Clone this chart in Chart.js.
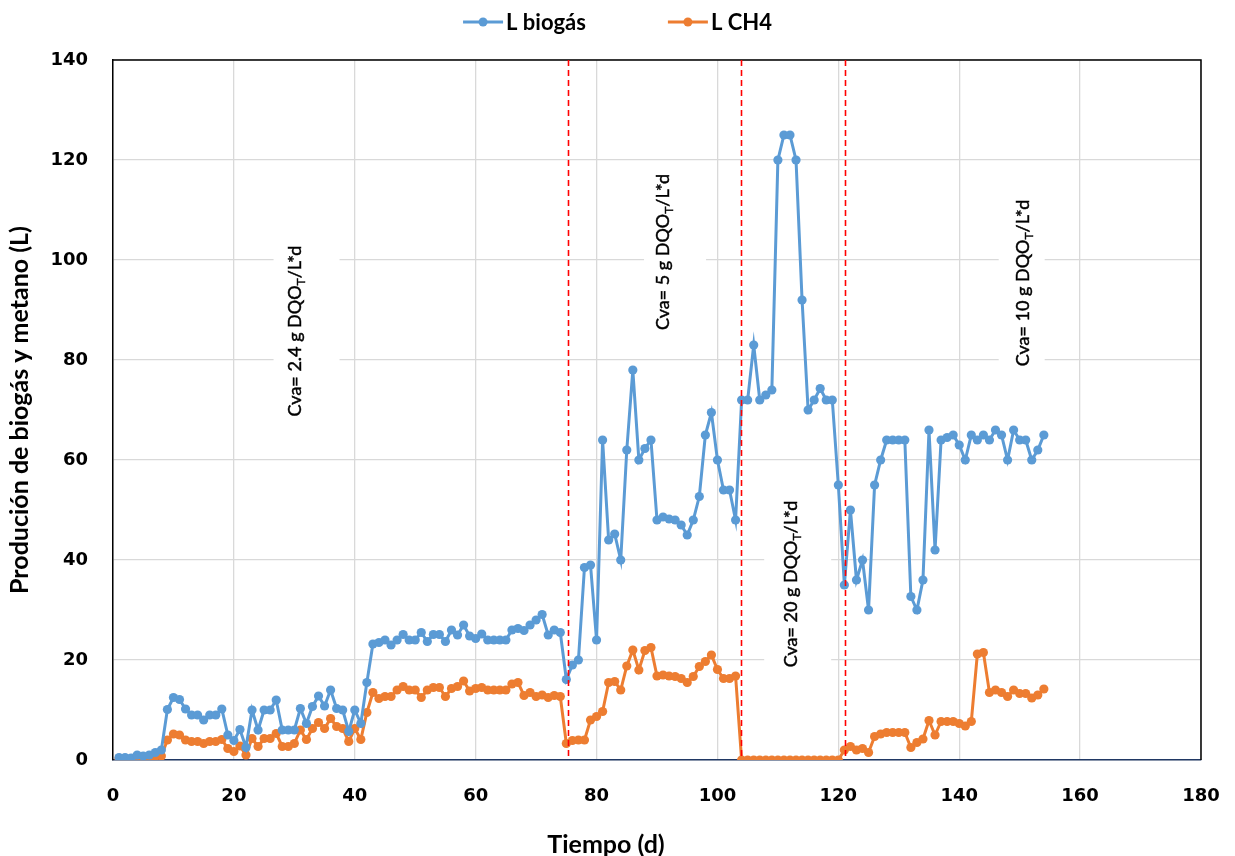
<!DOCTYPE html>
<html lang="es">
<head>
<meta charset="utf-8">
<title>Producción de biogás y metano</title>
<script src="https://cdn.jsdelivr.net/npm/chart.js@4.4.1/dist/chart.umd.min.js"></script>
<style>
  html, body { margin: 0; padding: 0; background: #fff; }
</style>
</head>
<body>
<canvas id="grafico" width="1235" height="856"></canvas>
<script>
// --- DATOS (producción diaria, L) ---
const PRIMER_DIA = 1;

const L_BIOGAS = [
  0.5, 0.5, 0.4, 1.0, 0.8, 1.0, 1.5, 2.0, 10.1, 12.5,
  12.1, 10.2, 9.0, 9.0, 8.0, 9.0, 9.0, 10.2, 5.0, 3.9,
  6.1, 2.5, 10.0, 6.0, 10.0, 10.0, 12.0, 6.0, 6.0, 6.0,
  10.3, 7.3, 10.7, 12.8, 10.8, 14.0, 10.3, 10.0, 5.7, 10.0,
  7.3, 15.5, 23.2, 23.5, 24.0, 23.0, 24.0, 25.1, 24.0, 24.0,
  25.5, 23.7, 25.1, 25.1, 23.7, 26.0, 25.0, 27.0, 24.8, 24.3,
  25.2, 24.0, 24.0, 24.0, 24.0, 26.0, 26.3, 25.9, 27.0, 28.0,
  29.1, 25.0, 26.0, 25.5, 16.1, 19.0, 20.0, 38.5, 39.0, 24.0,
  64.0, 44.0, 45.2, 40.0, 62.0, 78.0, 60.0, 62.3, 64.0, 48.0,
  48.6, 48.2, 48.0, 47.0, 45.0, 48.0, 52.7, 65.0, 69.5, 60.0,
  54.0, 54.0, 48.0, 72.0, 72.0, 83.0, 72.0, 73.0, 74.0, 120.0,
  125.0, 125.0, 120.0, 92.0, 70.0, 72.0, 74.3, 72.0, 72.0, 55.0,
  35.0, 50.0, 36.0, 40.0, 30.0, 55.0, 60.0, 64.0, 64.0, 64.0,
  64.0, 32.7, 30.0, 36.0, 66.0, 42.0, 64.0, 64.5, 65.0, 63.0,
  60.0, 65.0, 64.0, 65.0, 64.0, 66.0, 65.0, 60.0, 66.0, 64.0,
  64.0, 60.0, 62.0, 65.0
];

const L_CH4 = [
  0.3, 0.3, 0.2, 0.4, 0.4, 0.5, 0.7, 0.8, 4.0, 5.2,
  5.0, 4.0, 3.7, 3.7, 3.3, 3.7, 3.7, 4.1, 2.3, 1.7,
  2.8, 1.0, 4.3, 2.7, 4.3, 4.3, 5.3, 2.7, 2.7, 3.3,
  6.0, 4.1, 6.3, 7.5, 6.3, 8.3, 6.7, 6.3, 3.7, 6.3,
  4.1, 9.5, 13.5, 12.3, 12.7, 12.7, 14.0, 14.7, 14.0, 14.0,
  12.5, 14.0, 14.5, 14.5, 12.7, 14.3, 14.7, 15.8, 13.8, 14.3,
  14.5, 14.0, 14.0, 14.0, 14.0, 15.2, 15.5, 12.9, 13.5, 12.7,
  13.0, 12.5, 12.9, 12.7, 3.3, 3.9, 4.0, 4.0, 8.0, 8.7,
  9.7, 15.5, 15.7, 14.0, 18.8, 22.0, 18.0, 21.9, 22.5, 16.8,
  17.0, 16.8, 16.7, 16.3, 15.5, 16.7, 18.7, 19.7, 21.0, 18.1,
  16.3, 16.3, 16.8, 0, 0, 0, 0, 0, 0, 0,
  0, 0, 0, 0, 0, 0, 0, 0, 0, 0,
  2.0, 2.7, 2.0, 2.3, 1.5, 4.7, 5.2, 5.5, 5.5, 5.5,
  5.5, 2.5, 3.5, 4.2, 7.9, 5.0, 7.7, 7.7, 7.7, 7.3,
  6.8, 7.7, 21.2, 21.5, 13.5, 14.0, 13.5, 12.7, 14.0, 13.3,
  13.3, 12.4, 13.0, 14.2
];

const NOMBRES_SERIES = ['L biogás', 'L CH4'];
const COLORES = ['#5B9BD5', '#ED7D31'];

// días en que cambia la carga (líneas rojas)
const CAMBIOS_CARGA = [75.3, 103.9, 121.1];

// rótulos de cada etapa: texto, subíndice, resto y centro en unidades del gráfico
const ETAPAS = [
  { texto: 'Cva= 2.4 g DQO', sub: 'T', fin: '/L*d', dia: 30.2, valor: 85.8, izq: 22, der: 44 },
  { texto: 'Cva= 5 g DQO',   sub: 'T', fin: '/L*d', dia: 91.0, valor: 101.6, izq: 19, der: 43 },
  { texto: 'Cva= 20 g DQO',  sub: 'T', fin: '/L*d', dia: 112.2, valor: 35.2, izq: 27, der: 40 },
  { texto: 'Cva= 10 g DQO',  sub: 'T', fin: '/L*d', dia: 150.5, valor: 95.4, izq: 24, der: 22 }
];

const FUENTE_TITULOS = 'bold 25px Lato';
const FUENTE_LEYENDA = 'bold 22px Lato';
const FUENTE_ETAPAS = 18;

function aPuntos(valores) {
  return valores.map((v, i) => ({ x: PRIMER_DIA + i, y: v }));
}

// --- texto girado con subíndice (un poco engrosado) ---
function escribir(ctx, t, x, y) {
  ctx.fillText(t, x, y);
  ctx.strokeText(t, x, y);
}

function textoVertical(ctx, cx, cy, etapa) {
  ctx.save();
  ctx.translate(cx, cy);
  ctx.rotate(-Math.PI / 2);
  const normal = FUENTE_ETAPAS + 'px Lato';
  const chica = Math.round(FUENTE_ETAPAS * 0.65) + 'px Lato';
  ctx.font = normal;
  const w1 = ctx.measureText(etapa.texto).width;
  const w3 = ctx.measureText(etapa.fin).width;
  ctx.font = chica;
  const w2 = ctx.measureText(etapa.sub).width;
  const total = w1 + w2 + w3;
  let xx = -total / 2;
  ctx.fillStyle = '#000';
  ctx.strokeStyle = '#000';
  ctx.lineWidth = 0.45;
  ctx.textBaseline = 'middle';
  ctx.textAlign = 'left';
  ctx.font = normal;
  escribir(ctx, etapa.texto, xx, 0);
  xx += w1;
  ctx.font = chica;
  escribir(ctx, etapa.sub, xx, 6);
  xx += w2;
  ctx.font = normal;
  escribir(ctx, etapa.fin, xx, 0);
  ctx.restore();
  return total;
}

const pluginDecoracion = {
  id: 'decoracion',
  beforeDatasetsDraw(chart) {
    const { ctx, chartArea: a, scales: { x, y } } = chart;
    ctx.save();
    // marco superior y derecho
    ctx.strokeStyle = '#000';
    ctx.lineWidth = 1.5;
    ctx.beginPath();
    ctx.moveTo(a.left, a.top);
    ctx.lineTo(a.right, a.top);
    ctx.lineTo(a.right, a.bottom);
    ctx.stroke();

    // recuadros y rótulos de cada etapa
    ETAPAS.forEach(e => {
      const cx = x.getPixelForValue(e.dia);
      const cy = y.getPixelForValue(e.valor);
      ctx.font = FUENTE_ETAPAS + 'px Lato';
      const largo = ctx.measureText(e.texto + e.sub + e.fin).width;
      ctx.fillStyle = '#fff';
      ctx.fillRect(cx - e.izq, cy - largo / 2 - 12, e.izq + e.der, largo + 24);
      textoVertical(ctx, cx, cy, e);
    });
    ctx.restore();
  },
  afterDatasetsDraw(chart) {
    const { ctx, chartArea: a, scales: { x } } = chart;
    ctx.save();
    ctx.strokeStyle = '#FF0000';
    ctx.lineWidth = 1.6;
    ctx.setLineDash([6, 4]);
    CAMBIOS_CARGA.forEach(d => {
      const px = Math.round(x.getPixelForValue(d)) + 0.5;
      ctx.beginPath();
      ctx.moveTo(px, a.top);
      ctx.lineTo(px, a.bottom);
      ctx.stroke();
    });
    ctx.restore();
  },
  afterDraw(chart) {
    const { ctx } = chart;
    ctx.save();
    ctx.fillStyle = '#000';
    ctx.font = FUENTE_TITULOS;
    ctx.textAlign = 'center';
    ctx.textBaseline = 'middle';

    // título eje X
    ctx.fillText('Tiempo (d)', 606, 845);

    // título eje Y
    ctx.save();
    ctx.translate(20, 410);
    ctx.rotate(-Math.PI / 2);
    ctx.fillText('Produción de biogás y metano (L)', 0, 0);
    ctx.restore();

    // leyenda centrada arriba
    ctx.font = FUENTE_LEYENDA;
    const largoLinea = 40, sep = 3, entre = 82;
    ctx.textAlign = 'left';
    const anchos = NOMBRES_SERIES.map(n => largoLinea + sep + ctx.measureText(n).width);
    const total = anchos.reduce((s, w) => s + w, 0) + entre * (anchos.length - 1);
    let xx = chart.width / 2 - total / 2;
    const yy = 22;
    NOMBRES_SERIES.forEach((n, i) => {
      ctx.strokeStyle = COLORES[i];
      ctx.lineWidth = 3;
      ctx.beginPath();
      ctx.moveTo(xx, yy);
      ctx.lineTo(xx + largoLinea, yy);
      ctx.stroke();
      ctx.fillStyle = COLORES[i];
      ctx.beginPath();
      ctx.arc(xx + largoLinea / 2, yy, 4.5, 0, Math.PI * 2);
      ctx.fill();
      ctx.fillStyle = '#000';
      ctx.fillText(n, xx + largoLinea + sep, yy + 1);
      xx += anchos[i] + entre;
    });
    ctx.restore();
  }
};

const ctx = document.getElementById('grafico').getContext('2d');

new Chart(ctx, {
  type: 'line',
  data: {
    datasets: [L_BIOGAS, L_CH4].map((serie, i) => ({
      label: NOMBRES_SERIES[i],
      data: aPuntos(serie),
      borderColor: COLORES[i],
      backgroundColor: COLORES[i],
      borderWidth: 3,
      pointRadius: 4.6,
      pointHoverRadius: 4.6,
      pointBorderWidth: 0,
      tension: 0,
      fill: false
    }))
  },
  options: {
    responsive: false,
    animation: false,
    devicePixelRatio: 1,
    layout: { padding: { top: 60, right: 34, left: 0, bottom: 0 } },
    plugins: {
      legend: { display: false },
      tooltip: { enabled: false }
    },
    scales: {
      x: {
        type: 'linear',
        min: 0,
        max: 180,
        afterFit: s => {
          s.height = 96;
          // el "180" cabe en el margen derecho fijo
          s.paddingRight = 0;
          s.paddingLeft = 0;
        },
        ticks: {
          stepSize: 20,
          padding: 26,
          color: '#000',
          font: { family: 'DejaVu Sans', size: 18, weight: 'bold' },
          maxRotation: 0
        },
        grid: { color: '#D9D9D9', lineWidth: 1.3, drawTicks: false },
        border: { color: '#203864', width: 1.6 }
      },
      y: {
        min: 0,
        max: 140,
        afterFit: s => { s.width = 113; },
        ticks: {
          stepSize: 20,
          padding: 25,
          color: '#000',
          font: { family: 'DejaVu Sans', size: 18, weight: 'bold' }
        },
        grid: { color: '#D9D9D9', lineWidth: 1.3, drawTicks: false },
        border: { color: '#000', width: 1.5 }
      }
    }
  },
  plugins: [pluginDecoracion]
});
</script>
</body>
</html>
